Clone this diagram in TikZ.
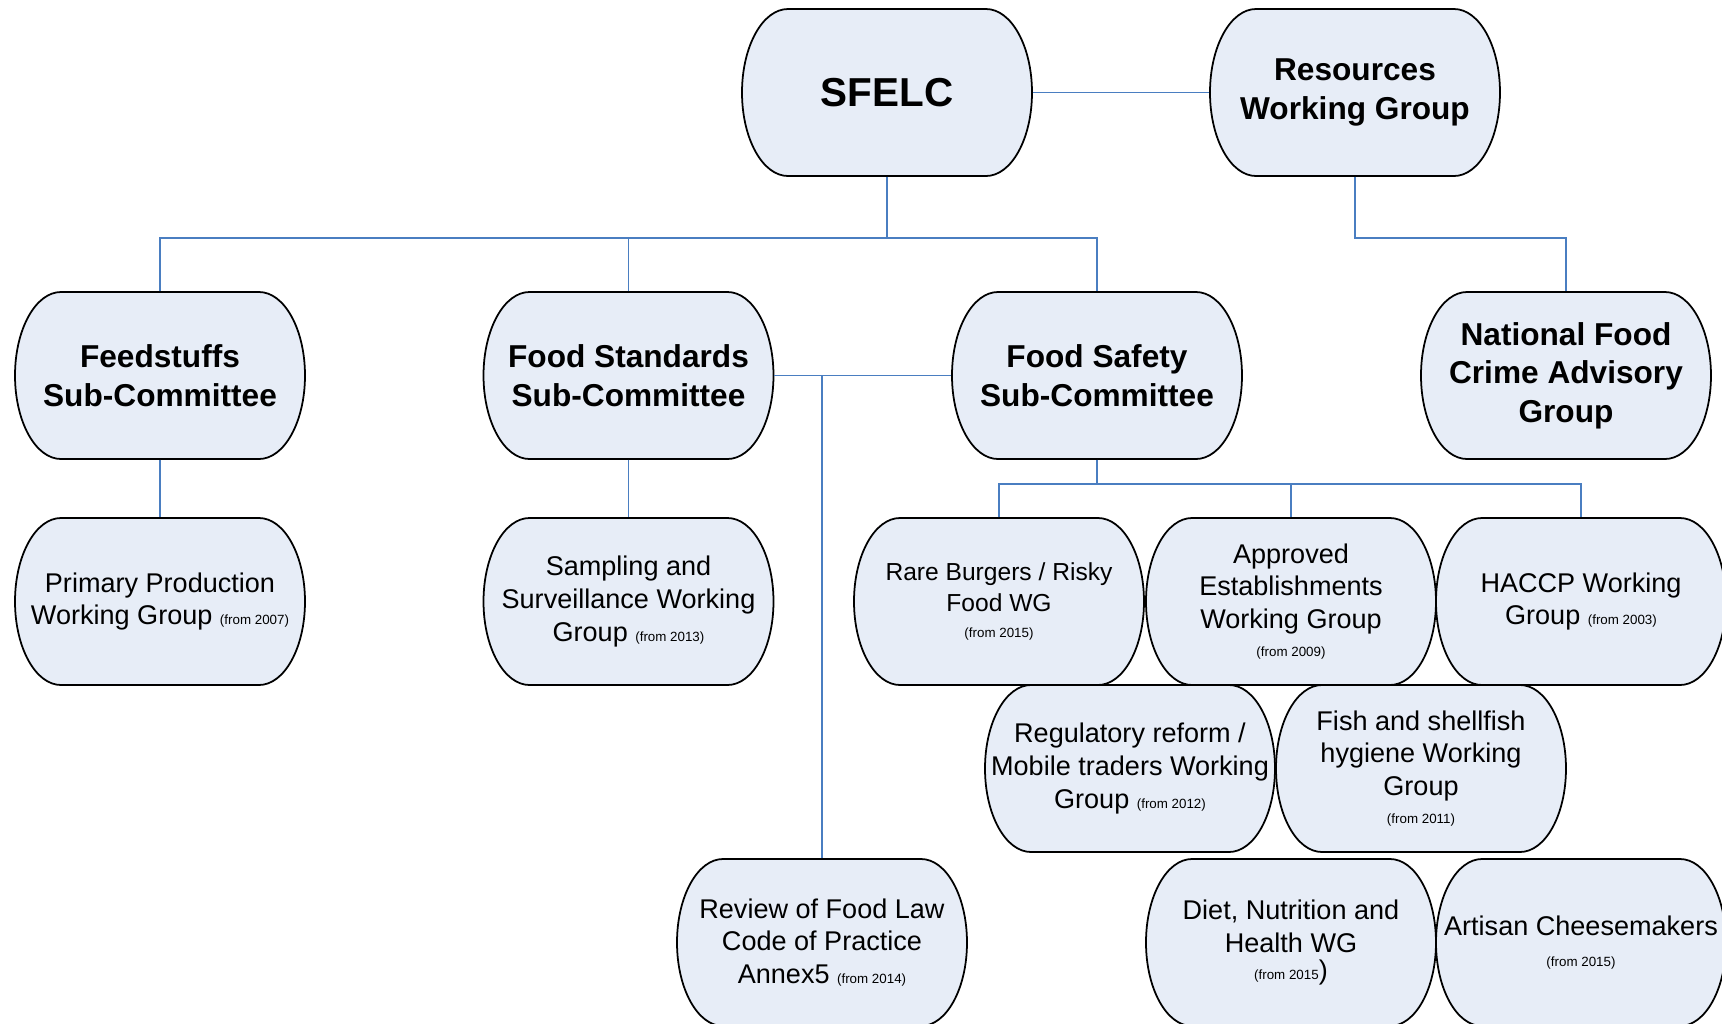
\documentclass[tikz,border=0pt]{standalone}
\usepackage{fontspec}
\setmainfont{Liberation Sans}
\usepackage{tikz}
\usetikzlibrary{backgrounds,calc}
\definecolor{boxfill}{RGB}{231,237,247}
\definecolor{linkblue}{RGB}{74,126,193}
\tikzset{%
	group/.style   = {rectangle, minimum width=2.9cm, minimum height=1.67cm, inner sep=0pt, align=center},
	topbox/.style  = {group, font=\fontsize{11.5}{14}\selectfont\bfseries},
	subbox/.style  = {group, font=\fontsize{9}{11}\selectfont\bfseries},
	wgbox/.style   = {group, font=\fontsize{7.7}{9.3}\selectfont},
	outline/.style = {draw=black, fill=boxfill, line width=0.5pt},
	link/.style    = {draw=linkblue, line width=0.5pt},
}
\newcommand{\since}[1]{{\fontsize{3.8}{4.6}\selectfont(from #1)}}

\begin{document}
\begin{tikzpicture}
	\useasboundingbox (0,0) rectangle (17.22,-10.24);
	% committees
	\node[topbox] (sfelc) at (8.87,-0.925) {SFELC};
	\node[subbox] (res) at (13.55,-0.925) {Resources\\Working Group};
	\node[subbox] (feed) at (1.60,-3.755) {Feedstuffs\\Sub-Committee};
	\node[subbox] (fstd) at (6.285,-3.755) {Food Standards\\Sub-Committee};
	\node[subbox] (fsaf) at (10.97,-3.755) {Food Safety\\Sub-Committee};
	\node[subbox] (nfc) at (15.66,-3.755) {National Food\\Crime Advisory\\Group};
	% working groups
	\node[wgbox] (prim) at (1.60,-6.015) {Primary Production\\Working Group \since{2007}};
	\node[wgbox] (samp) at (6.285,-6.015) {Sampling and\\Surveillance Working\\Group \since{2013}};
	\node[wgbox,font=\fontsize{7}{8.8}\selectfont] (rare) at (9.99,-6.015) {Rare Burgers / Risky\\Food WG\\[-1.2pt]\since{2015}};
	\node[wgbox] (appr) at (12.91,-6.015) {Approved\\Establishments\\Working Group\\[-1.2pt]\since{2009}};
	\node[wgbox] (haccp) at (15.81,-6.015) {HACCP Working\\Group \since{2003}};
	\node[wgbox] (reg) at (11.30,-7.685) {Regulatory reform /\\Mobile traders Working\\Group \since{2012}};
	\node[wgbox] (fish) at (14.21,-7.685) {Fish and shellfish\\hygiene Working\\Group\\[-1.2pt]\since{2011}};
	\node[wgbox] (rev) at (8.22,-9.425) {Review of Food Law\\Code of Practice\\Annex5 \since{2014}};
	\node[wgbox] (diet) at (12.91,-9.425) {Diet, Nutrition and\\Health WG\\[-1.5pt]{\fontsize{3.8}{4.6}\selectfont(from 2015})};
	\node[wgbox] (art) at (15.81,-9.425) {Artisan Cheesemakers\\[-0.5pt]\since{2015}};

	% connectors
	\coordinate (bus1) at ($(sfelc.south)+(0,-0.61)$);
	\coordinate (bus2) at ($(fsaf.south)+(0,-0.24)$);
	\draw[link] (sfelc.east) -- (res.west);
	\draw[link] (sfelc.south) -- (bus1);
	\draw[link] (feed.north) |- (bus1) -| (fsaf.north);
	\draw[link] (fstd.north) -- (fstd.north |- bus1);
	\draw[link] (res.south) |- (nfc.north |- bus1) -- (nfc.north);
	\draw[link] (fstd.east) -- (fsaf.west);
	\draw[link] (rev.north) -- (rev.north |- fstd.east);
	\draw[link] (feed.south) -- (prim.north);
	\draw[link] (fstd.south) -- (samp.north);
	\draw[link] (fsaf.south) -- (bus2);
	\draw[link] (rare.north) |- (bus2) -| (haccp.north);
	\draw[link] (appr.north) -- (appr.north |- bus2);

	% rounded outlines behind the texts
	\begin{scope}[on background layer]
		\foreach \nm in {sfelc,res,feed,fstd,fsaf,nfc,prim,samp,rare,appr,haccp,reg,fish,rev,diet,art}
			\draw[outline] ($(\nm.center)+(-0.99,0.835)$) -- ($(\nm.center)+(0.99,0.835)$)
				arc[start angle=90,end angle=-90,x radius=0.46,y radius=0.835]
				-- ($(\nm.center)+(-0.99,-0.835)$)
				arc[start angle=270,end angle=90,x radius=0.46,y radius=0.835] -- cycle;
	\end{scope}
\end{tikzpicture}
\end{document}
